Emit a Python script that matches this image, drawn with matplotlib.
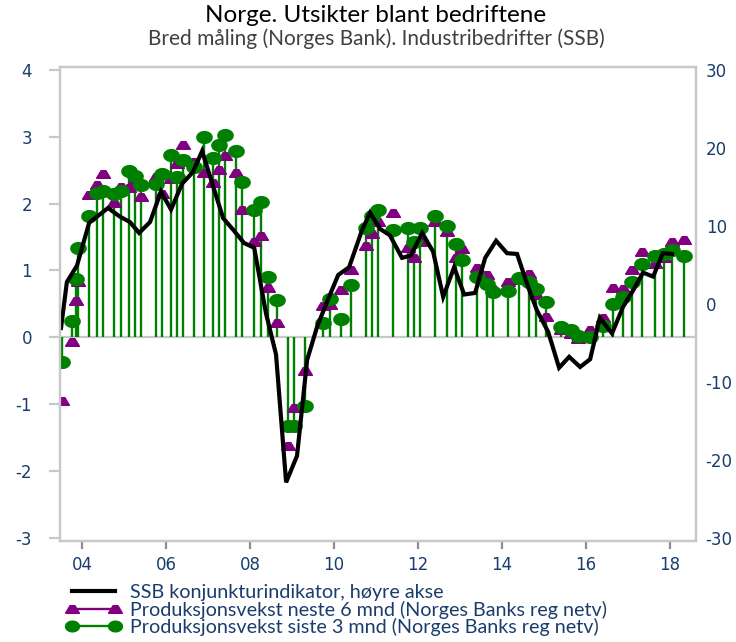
import numpy as np
import matplotlib
matplotlib.use('Agg')
import matplotlib.pyplot as plt
from matplotlib.path import Path
from matplotlib.lines import Line2D

plt.rcParams['axes.unicode_minus'] = False

# SSB konjunkturindikator (right axis), quarterly
ssb_x = [2003.50, 2003.64, 2003.88, 2004.17, 2004.62, 2004.90, 2005.14, 2005.36, 2005.62, 2005.88,
         2006.12, 2006.38, 2006.64, 2006.86, 2007.36, 2007.60, 2007.86, 2008.10, 2008.38, 2008.62,
         2008.86, 2009.12, 2009.36, 2009.60, 2009.86, 2010.10, 2010.36, 2010.67, 2010.86, 2011.10,
         2011.33, 2011.62, 2011.83, 2012.10, 2012.36, 2012.60, 2012.86, 2013.10, 2013.36, 2013.60,
         2013.86, 2014.12, 2014.36, 2014.62, 2014.83, 2015.10, 2015.36, 2015.60, 2015.86, 2016.10,
         2016.33, 2016.62, 2016.88, 2017.12, 2017.36, 2017.60, 2017.83, 2018.05]
ssb_val = [-3.1, 2.8, 4.9, 10.4, 12.3, 11.2, 10.5, 9.1, 10.5, 14.4,
           12.1, 15.4, 16.9, 19.6, 11.0, 9.5, 7.8, 7.2, -1.2, -6.5,
           -22.9, -19.5, -7.2, -2.9, 0.6, 3.7, 4.7, 9.5, 11.7, 9.6,
           8.8, 5.9, 6.2, 9.1, 6.7, 0.9, 4.7, 1.2, 1.4, 5.9,
           8.1, 6.5, 6.4, 2.2, -0.8, -3.6, -8.2, -6.8, -8.1, -7.1,
           -1.8, -3.8, -0.4, 1.7, 4.0, 3.5, 6.5, 6.4]

# Norges Banks regionale nettverk (left axis)
nb_x = [2003.52, 2003.76, 2003.86, 2003.90, 2004.17, 2004.36, 2004.50, 2004.76, 2004.93, 2005.12,
        2005.26, 2005.40, 2005.76, 2005.90, 2006.12, 2006.26, 2006.40, 2006.67, 2006.90, 2007.12,
        2007.26, 2007.40, 2007.67, 2007.81, 2008.10, 2008.26, 2008.43, 2008.64, 2008.90, 2009.05,
        2009.31, 2009.74, 2009.90, 2010.17, 2010.40, 2010.76, 2010.90, 2011.05, 2011.40, 2011.76,
        2011.90, 2012.05, 2012.40, 2012.69, 2012.90, 2013.05, 2013.40, 2013.64, 2013.79, 2014.14,
        2014.40, 2014.64, 2014.81, 2015.05, 2015.40, 2015.64, 2015.81, 2016.10, 2016.40, 2016.64,
        2016.88, 2017.10, 2017.33, 2017.64, 2017.86, 2018.05, 2018.33]
nb_last3 = [-0.37, 0.24, 0.87, 1.34, 1.82, 2.16, 2.19, 2.15, 2.19, 2.49,
            2.42, 2.28, 2.30, 2.45, 2.73, 2.40, 2.66, 2.55, 2.99, 2.69,
            2.87, 3.03, 2.79, 2.33, 1.91, 2.03, 0.90, 0.55, -1.33, -1.33,
            -1.03, 0.22, 0.57, 0.27, 0.78, 1.63, 1.82, 1.90, 1.60, 1.64,
            1.42, 1.63, 1.81, 1.66, 1.40, 1.15, 0.90, 0.80, 0.67, 0.69,
            0.88, 0.82, 0.72, 0.52, 0.16, 0.11, 0.02, 0.01, 0.17, 0.50,
            0.60, 0.82, 1.10, 1.22, 1.24, 1.31, 1.22]
nb_next6 = [-0.95, -0.07, 0.54, 0.82, 2.13, 2.28, 2.45, 2.01, 2.25, 2.24,
            2.36, 2.10, 2.40, 2.15, 2.37, 2.60, 2.88, 2.63, 2.46, 2.31,
            2.51, 2.72, 2.46, 1.90, 1.43, 1.51, 0.73, 0.22, -1.63, -1.06,
            -0.51, 0.47, 0.48, 0.70, 1.00, 1.37, 1.54, 1.72, 1.86, 1.34,
            1.19, 1.43, 1.72, 1.57, 1.18, 1.32, 1.03, 0.93, 0.72, 0.82,
            0.86, 0.94, 0.63, 0.30, 0.11, 0.05, -0.03, 0.11, 0.29, 0.74,
            0.72, 1.00, 1.27, 1.09, 1.18, 1.42, 1.46]

xticks = [2004, 2006, 2008, 2010, 2012, 2014, 2016, 2018]
xticklabels = ['04', '06', '08', '10', '12', '14', '16', '18']

navy = '#1a3d6d'
grey = '#c8c8c8'
green = '#008000'
purple = '#800080'

# flattened marker shapes
t = np.linspace(0, 2 * np.pi, 40)
ellipse = Path(np.column_stack([1.3 * np.cos(t), np.sin(t)]))
tri = Path([(-1.0, -0.55), (1.0, -0.55), (0.35, 0.55), (-0.35, 0.55), (-1.0, -0.55)])

fig = plt.figure(figsize=(7.36, 6.42), dpi=100)
ax = fig.add_axes([60 / 736, 1 - 541 / 642, 636 / 736, 474 / 642])
ax2 = ax.twinx()

ax.axhline(0, color=grey, lw=1.6, zorder=1)
ax.vlines(nb_x, 0, nb_last3, color=green, lw=1.7, zorder=2)
ax.plot(nb_x, nb_next6, ls='none', marker=tri, ms=10, color=purple, zorder=3)
ax.plot(nb_x, nb_last3, ls='none', marker=ellipse, ms=11, color=green, zorder=4)
ax2.plot(ssb_x, ssb_val, color='black', lw=3.0, solid_joinstyle='miter')

ax.set_xlim(2003.476, 2018.62)
ax.set_ylim(-3.05, 4.045)
ax2.set_ylim(-30.43, 30.39)
ax.set_yticks(range(-3, 5))
ax2.set_yticks(range(-30, 31, 10))
ax.set_xticks(xticks)
ax.set_xticklabels(xticklabels)

for a in (ax, ax2):
    for s in a.spines.values():
        s.set_color(grey)
        s.set_linewidth(1.6)
ax.tick_params(axis='y', colors=grey, length=8, width=1.6, pad=12, labelcolor=navy, labelsize=12,
               labelfontfamily='DejaVu Sans')
ax.tick_params(axis='x', colors='#8c8c8c', length=6, width=1.6, pad=5, labelcolor=navy, labelsize=12,
               labelfontfamily='DejaVu Sans')
ax2.tick_params(axis='y', length=0, pad=7, labelcolor=navy, labelsize=12, labelfontfamily='DejaVu Sans')

fig.text(376 / 736, 1 - 15 / 642, 'Norge. Utsikter blant bedriftene', ha='center', va='center',
         fontsize=17.5, family='Lato', color='black')
fig.text(376 / 736, 1 - 39 / 642, 'Bred måling (Norges Bank). Industribedrifter (SSB)', ha='center', va='center',
         fontsize=15, family='Lato', color='#404040')

handles = [
    Line2D([], [], color='black', lw=3),
    Line2D([], [], color=purple, lw=1.7, marker=tri, ms=10),
    Line2D([], [], color=green, lw=1.7, marker=ellipse, ms=10),
]
labels = ['SSB konjunkturindikator, høyre akse',
          'Produksjonsvekst neste 6 mnd (Norges Banks reg netv)',
          'Produksjonsvekst siste 3 mnd (Norges Banks reg netv)']
leg = fig.legend(handles, labels, loc='upper left', bbox_to_anchor=(66 / 736, 1 - 584 / 642),
                 frameon=False, numpoints=2, handlelength=2.8, handletextpad=0.45, borderpad=0,
                 borderaxespad=0, labelspacing=-0.02, prop={'family': 'Lato', 'size': 14.2})
for txt in leg.get_texts():
    txt.set_color(navy)

fig.savefig('out.png', dpi=100)
